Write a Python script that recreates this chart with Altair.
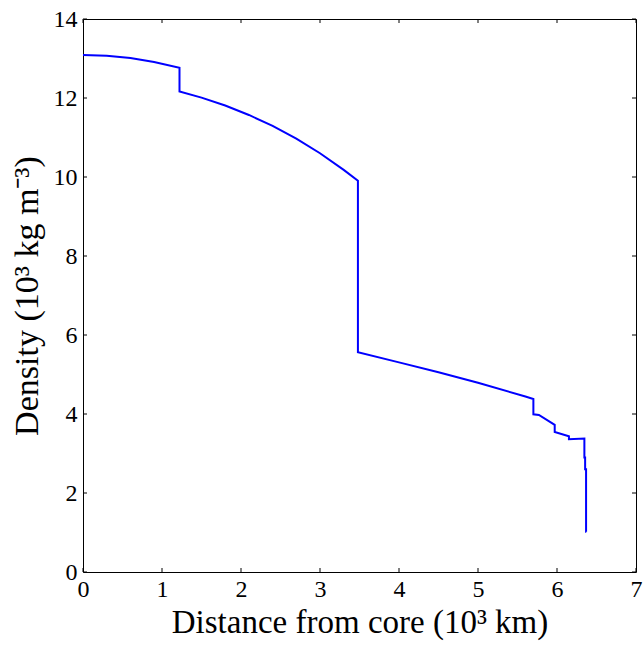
import altair as alt
import pandas as pd

# Radius (10^3 km) and density (10^3 kg m^-3) along the profile, in drawing order
radius = [0.0, 0.3, 0.6, 0.9, 1.2215,
          1.2215, 1.5, 1.8, 2.1, 2.4, 2.7, 3.0, 3.3, 3.48,
          3.48, 4.0, 4.5, 5.0, 5.6, 5.701,
          5.701, 5.771, 5.971,
          5.971, 6.151,
          6.151, 6.3466,
          6.3466, 6.356,
          6.356, 6.368,
          6.368, 6.371]
density = [13.088, 13.069, 13.010, 12.912, 12.764,
           12.166, 12.010, 11.809, 11.571, 11.293, 10.971, 10.602, 10.181, 9.904,
           5.567, 5.307, 5.055, 4.790, 4.443, 4.381,
           3.992, 3.976, 3.724,
           3.543, 3.436,
           3.360, 3.381,
           2.900, 2.900,
           2.600, 2.600,
           1.020, 1.020]

x_ticks = [0, 1, 2, 3, 4, 5, 6, 7]
y_ticks = [0, 2, 4, 6, 8, 10, 12, 14]

W, H = 553, 553
FONT = "Liberation Serif"

df = pd.DataFrame({"r": radius, "rho": density, "i": list(range(len(radius)))})
xt = pd.DataFrame({"v": x_ticks})
yt = pd.DataFrame({"v": y_ticks})

xs = alt.Scale(domain=[0, 7], nice=False)
ys = alt.Scale(domain=[0, 14], nice=False)

axis_style = dict(grid=False, ticks=False, domain=False, format="d",
                  labelFlush=False,
                  labelFont=FONT, labelFontSize=24, labelColor="black",
                  titleFont=FONT, titleFontWeight="normal",
                  titleColor="black")

line = alt.Chart(df).mark_line(color="#0000ff", strokeWidth=2, clip=True).encode(
    x=alt.X("r:Q", scale=xs,
            axis=alt.Axis(values=x_ticks, title="Distance from core (10³ km)",
                          titleFontSize=33,
                          labelPadding=5, titlePadding=5, **axis_style)),
    y=alt.Y("rho:Q", scale=ys,
            axis=alt.Axis(values=y_ticks, title="Density (10³ kg m⁻³)",
                          titleFontSize=34,
                          labelPadding=6, titlePadding=9, **axis_style)),
    order="i:Q",
)

tick_style = dict(color="black", strokeWidth=1)
bottom = alt.Chart(xt).mark_rule(**tick_style).encode(
    x=alt.X("v:Q", scale=xs), y=alt.value(H), y2=alt.value(H - 4))
top = alt.Chart(xt).mark_rule(**tick_style).encode(
    x=alt.X("v:Q", scale=xs), y=alt.value(0), y2=alt.value(4))
left = alt.Chart(yt).mark_rule(**tick_style).encode(
    y=alt.Y("v:Q", scale=ys), x=alt.value(0), x2=alt.value(4))
right = alt.Chart(yt).mark_rule(**tick_style).encode(
    y=alt.Y("v:Q", scale=ys), x=alt.value(W), x2=alt.value(W - 4))

chart = alt.layer(line, bottom, top, left, right).properties(
    width=W, height=H,
    background="white",
    autosize=alt.AutoSizeParams(type="none"),
    padding={"left": 83, "top": 19, "right": 8, "bottom": 79},
).configure_view(
    stroke="black", strokeWidth=1
)

chart.save("out.html", embed_options={"renderer": "svg", "actions": False})
